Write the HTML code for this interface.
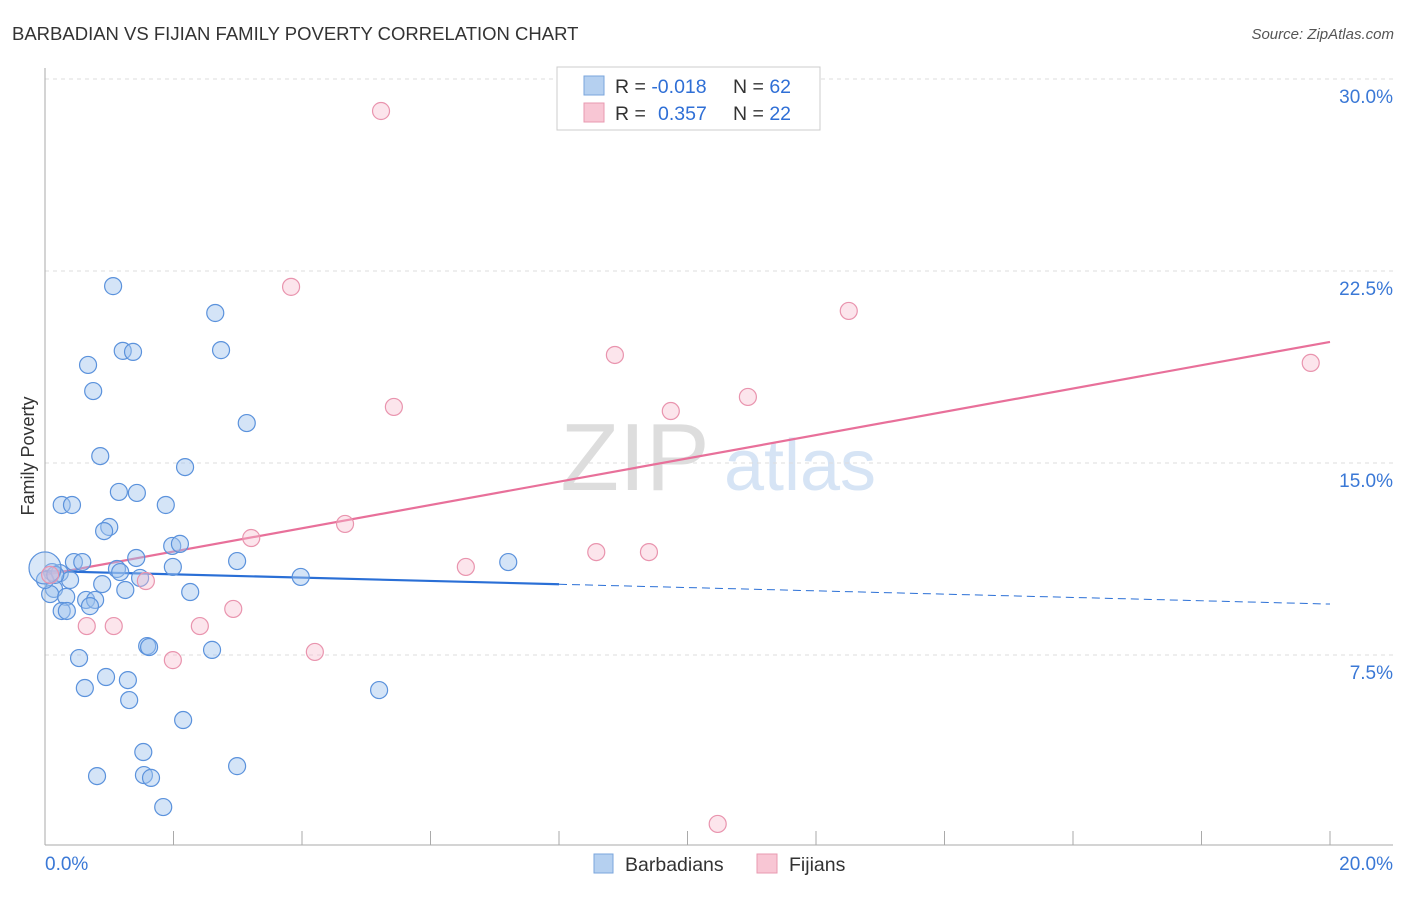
<!DOCTYPE html>
<html><head><meta charset="utf-8"><style>
body{margin:0;background:#fff;font-family:"Liberation Sans",sans-serif;}
svg text{font-family:"Liberation Sans",sans-serif;}
</style></head><body>
<svg width="1406" height="892" viewBox="0 0 1406 892" id="chart">
<text x="12" y="40" font-size="18.5" fill="#333">BARBADIAN VS FIJIAN FAMILY POVERTY CORRELATION CHART</text>
<text x="1394" y="39" font-size="15" fill="#555" font-style="italic" text-anchor="end">Source: ZipAtlas.com</text>
<text x="34" y="456" font-size="18" fill="#333" text-anchor="middle" transform="rotate(-90 34 456)">Family Poverty</text>
<g>
<text x="635" y="490" font-size="96" fill="#ddd" text-anchor="middle" font-family="Liberation Serif">ZIP</text>
<text x="800" y="490" font-size="72" fill="#d6e4f5" text-anchor="middle">atlas</text>
</g>
<g id="grid"></g>
<g id="axes"></g>
<g id="lines"></g>
<g id="pts"></g>
<g>
<rect x="557" y="67" width="263" height="63" fill="#fff" stroke="#ccc"/>
<rect x="584" y="76" width="20" height="19" fill="#b5d0f0" stroke="#7aa6dc"/>
<rect x="584" y="103" width="20" height="19" fill="#f8c6d4" stroke="#e89ab0"/>
<text x="615" y="93" font-size="19.5" fill="#333">R = <tspan fill="#2f6fd6">-0.018</tspan><tspan x="733">N = </tspan><tspan fill="#2f6fd6">62</tspan></text>
<text x="615" y="120" font-size="19.5" fill="#333">R = <tspan fill="#2f6fd6" x="658">0.357</tspan><tspan x="733">N = </tspan><tspan fill="#2f6fd6">22</tspan></text>
</g>
<g>
<rect x="594" y="854" width="19" height="19" fill="#b5d0f0" stroke="#7aa6dc"/>
<text x="625" y="871" font-size="19.5" fill="#333">Barbadians</text>
<rect x="757" y="854" width="20" height="19" fill="#f8c6d4" stroke="#e89ab0"/>
<text x="789" y="871" font-size="19.5" fill="#333">Fijians</text>
</g>
</svg>
<script>
const yTicks=[7.5,15,22.5,30];
const yTickLabels=["7.5%","15.0%","22.5%","30.0%"];
const xTickCount=10;
const blueX=[1.06,2.65,0.67,1.21,1.37,2.74,0.75,3.14,0.86,2.18,1.15,1.43,0.26,0.42,1.88,1.00,0.92,1.98,2.10,1.42,0.45,0.58,2.99,1.99,1.12,1.17,0.11,0.23,1.48,3.98,0.39,0.89,1.25,2.26,0.14,0.08,0.33,0.64,0.78,0.70,0.26,0.34,1.59,1.62,2.60,0.53,0.95,1.29,0.62,5.20,1.31,2.15,1.53,0.81,1.54,1.65,2.99,1.84,7.21,0,0.16];
const blueY=[21.91,20.86,18.83,19.38,19.34,19.41,17.81,16.56,15.27,14.84,13.87,13.83,13.36,13.36,13.36,12.50,12.34,11.76,11.84,11.29,11.13,11.13,11.17,10.94,10.86,10.74,10.74,10.70,10.51,10.55,10.43,10.27,10.04,9.96,10.08,9.88,9.77,9.65,9.65,9.41,9.22,9.22,7.85,7.81,7.70,7.38,6.64,6.52,6.21,6.13,5.74,4.96,3.71,2.77,2.81,2.70,3.16,1.56,11.13,10.43,10.63];
const pinkX=[5.23,3.83,12.51,8.87,5.43,10.94,9.74,19.70,4.67,3.21,8.58,9.40,6.55,1.57,0.65,1.07,2.41,2.93,1.99,4.20,10.47,0.08];
const pinkY=[28.75,21.88,20.94,19.22,17.19,17.58,17.03,18.91,12.62,12.07,11.52,11.52,10.94,10.39,8.63,8.63,8.63,9.30,7.30,7.62,0.90,10.63];
const blueTrend=[10.78,9.49];
const pinkTrend=[10.63,19.73];
const blueSolidEnd=8.0;
const NS="http://www.w3.org/2000/svg";
const X=v=>45+v/20*1285;
const Y=v=>847-v/7.5*192;
function mk(t,a,p){const e=document.createElementNS(NS,t);for(const k in a)e.setAttribute(k,a[k]);p.appendChild(e);return e;}
const grid=document.getElementById('grid'),axes=document.getElementById('axes'),lines=document.getElementById('lines'),pts=document.getElementById('pts');
yTicks.forEach((t,i)=>{
 const l=mk('line',{x1:45,x2:1393,y1:Y(t),y2:Y(t),stroke:'#ddd','stroke-dasharray':'4,4'},grid);
 
 
 const tx=mk('text',{x:1393,y:Y(t)+24,'font-size':19,fill:'#3a78d6','text-anchor':'end'},axes);
 tx.textContent=yTickLabels[i];
 
 
});
const ya=mk('line',{x1:45,x2:45,y1:68,y2:845,stroke:'#aaa'},axes);


const xa=mk('line',{x1:45,x2:1393,y1:845,y2:845,stroke:'#aaa'},axes);


for(let i=1;i<=xTickCount;i++){
 const t=mk('line',{x1:X(i*2),x2:X(i*2),y1:831,y2:845,stroke:'#aaa'},axes);
 
 
}
const xl0=mk('text',{x:45,y:870,'font-size':19,fill:'#3a78d6'},axes);xl0.textContent='0.0%';


const xl1=mk('text',{x:1393,y:870,'font-size':19,fill:'#3a78d6','text-anchor':'end'},axes);xl1.textContent='20.0%';


blueX.forEach((x,i)=>{
 const c=mk('circle',{cx:X(x),cy:Y(blueY[i]),r:8.5,fill:'rgba(160,195,238,0.45)',stroke:'#5b92dc','stroke-width':1.2},pts);
 
 
});
const big=mk('circle',{cx:X(0),cy:Y(10.9),r:16,fill:'rgba(160,195,238,0.4)',stroke:'#5b92dc','stroke-width':1.2},pts);


pinkX.forEach((x,i)=>{
 const c=mk('circle',{cx:X(x),cy:Y(pinkY[i]),r:8.5,fill:'rgba(248,190,208,0.4)',stroke:'#e994ae','stroke-width':1.2},pts);
 
 
});
const by=x=>blueTrend[0]+(blueTrend[1]-blueTrend[0])*x/20;
const bl=mk('line',{x1:X(0),y1:Y(by(0)),x2:X(blueSolidEnd),y2:Y(by(blueSolidEnd)),stroke:'#2a6fd6','stroke-width':2.2},lines);


const bd=mk('line',{x1:X(blueSolidEnd),y1:Y(by(blueSolidEnd)),x2:X(20),y2:Y(by(20)),stroke:'#2a6fd6','stroke-width':1,'stroke-dasharray':'8,5'},lines);


const pl=mk('line',{x1:X(0),y1:Y(pinkTrend[0]),x2:X(20),y2:Y(pinkTrend[1]),stroke:'#e8709a','stroke-width':2.2},lines);


</script>
</body></html>
